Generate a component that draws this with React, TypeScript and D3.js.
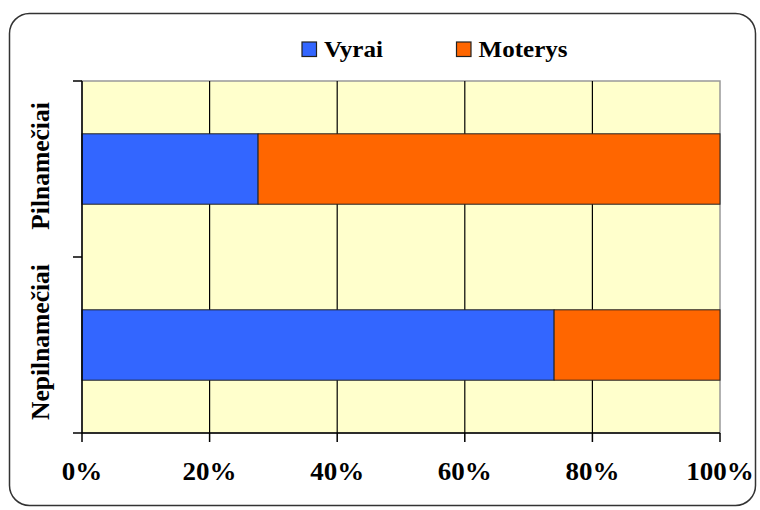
import React from "react";
import * as d3 from "d3";

const categories = ["Pilnamečiai", "Nepilnamečiai"];
const seriesNames = ["Vyrai", "Moterys"];
const vyrai = [27.6, 74.0];
const moterys = [72.4, 26.0];
const xTicks = [0, 20, 40, 60, 80, 100];
const colors = ["#3366FF", "#FF6600"];

export default function App() {
  const W = 760, H = 510;
  const left = 82, right = 720, top = 81, bottom = 433;
  const x = d3.scaleLinear().domain([0, 100]).range([left, right]);
  const y = d3.scaleBand().domain(categories).range([top, bottom]).paddingInner(0.6).paddingOuter(0.3);
  const stack = d3.stack<any>().keys(seriesNames)(
    categories.map((c, i) => ({ cat: c, Vyrai: vyrai[i], Moterys: moterys[i] }))
  );
  const font = "'Liberation Serif', 'Times New Roman', serif";
  const catBand = (bottom - top) / categories.length;
  return (
    <svg width={W} height={H} style={{ position: "absolute", left: 0, top: 0 }}>
      <rect x={0} y={0} width={W} height={H} fill="#fff" />
      <rect x={9.5} y={13.5} width={746} height={492} rx={20} ry={20} fill="#fff" stroke="#333" strokeWidth={1.5} />
      <rect x={left} y={top} width={right - left} height={bottom - top} fill="#FFFFCC" stroke="#999" strokeWidth={1.5} />
      {xTicks.slice(1, -1).map((t) => (
        <line key={t} x1={x(t)} x2={x(t)} y1={top} y2={bottom} stroke="#000" strokeWidth={1.2} />
      ))}
      {stack.map((s, si) =>
        s.map((d, i) => (
          <rect
            key={si + "-" + i}
            x={x(d[0])}
            y={y(categories[i])!}
            width={x(d[1]) - x(d[0])}
            height={y.bandwidth()}
            fill={colors[si]}
            stroke="#222"
            strokeWidth={1}
          />
        ))
      )}
      <line x1={left} x2={left} y1={top} y2={bottom} stroke="#000" strokeWidth={1.5} />
      <line x1={left} x2={right} y1={bottom} y2={bottom} stroke="#000" strokeWidth={1.5} />
      {[0, 1, 2].map((k) => (
        <line key={k} x1={left - 9} x2={left} y1={top + k * catBand} y2={top + k * catBand} stroke="#000" strokeWidth={1.5} />
      ))}
      {xTicks.map((t) => (
        <g key={t}>
          <line x1={x(t)} x2={x(t)} y1={bottom} y2={bottom + 9} stroke="#000" strokeWidth={1.5} />
          <text
            transform={`translate(${x(t)}, 480) scale(1.08, 1)`}
            textAnchor="middle"
            fontFamily={font}
            fontWeight="bold"
            fontSize={25}
            fill="#000"
          >
            {t}%
          </text>
        </g>
      ))}
      {categories.map((c, i) => (
        <text
          key={c}
          transform={`translate(49, ${top + catBand * (i + 0.5) - 3}) rotate(-90)`}
          textAnchor="middle"
          fontFamily={font}
          fontWeight="bold"
          fontSize={25.5}
          fill="#000"
        >
          {c}
        </text>
      ))}
      {seriesNames.map((n, i) => {
        const lx = [302, 456.5][i];
        return (
          <g key={n}>
            <rect x={lx} y={42} width={14.5} height={14.5} fill={colors[i]} stroke="#222" strokeWidth={1.2} />
            <text
              transform={`translate(${lx + 22}, 57) scale(1.09, 1)`}
              fontFamily={font}
              fontWeight="bold"
              fontSize={23}
              fill="#000"
            >
              {n}
            </text>
          </g>
        );
      })}
    </svg>
  );
}
